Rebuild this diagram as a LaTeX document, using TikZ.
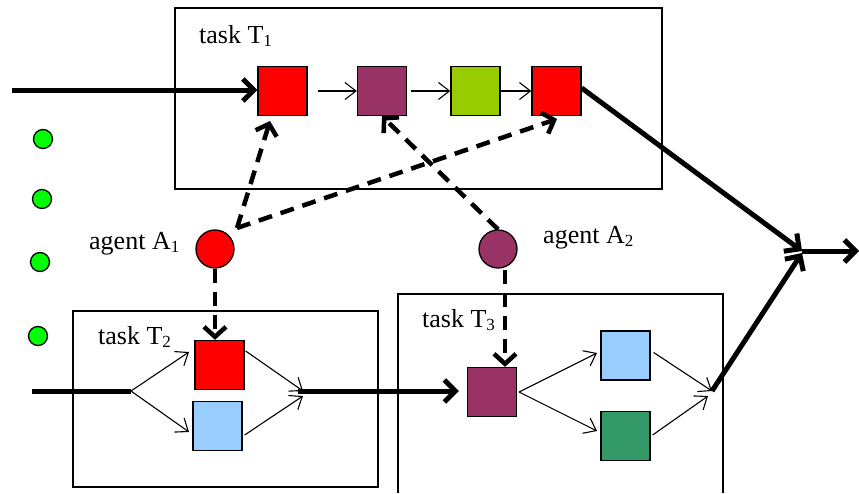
\documentclass[tikz,border=0pt]{standalone}
\usepackage{fontspec}
\setmainfont{Liberation Serif}
\usetikzlibrary{arrows.meta,calc}
\definecolor{cred}{HTML}{FF0000}
\definecolor{cpur}{HTML}{993366}
\definecolor{cgy}{HTML}{99CC00}
\definecolor{cblue}{HTML}{99CCFF}
\definecolor{cdg}{HTML}{339966}
\definecolor{dotgreen}{HTML}{00FF00}
\newcommand\subn[1]{\raisebox{-0.3ex}{\fontsize{17}{17}\selectfont #1}}
\begin{document}
\begin{tikzpicture}[x=1pt,y=-1pt,
  sq/.style={draw, line width=1.3pt, minimum size=49pt, inner sep=0pt},
  dot/.style={circle, draw, line width=1.3pt, fill=dotgreen, minimum size=19pt, inner sep=0pt},
  agent/.style={circle, draw, line width=1.3pt, minimum size=38pt, inner sep=0pt},
  taskbox/.style={draw, line width=1.1pt, inner sep=0pt},
  lbl/.style={anchor=base west, inner sep=0pt, font=\fontsize{26}{26}\selectfont},
  thinarr/.style={line width=1.1pt, -{Straight Barb[length=11pt,width=17pt]}},
  thickarr/.style={line width=5pt, -{Straight Barb[length=11pt,width=22pt]}},
  thickline/.style={line width=5pt},
  dsh/.style={line width=4.5pt, dash pattern=on 14pt off 9pt, -{Straight Barb[length=10pt,width=22pt]}},
]
\useasboundingbox (0,0) rectangle (859,493);

% task boxes
\node[taskbox, minimum width=487pt, minimum height=181pt] (T1) at (418.5,98.5) {};
\node[taskbox, minimum width=305pt, minimum height=176pt] (T2) at (225.5,399) {};
\draw[line width=1.1pt] (398,493) -- (398,294) -- (723,294) -- (723,493);

% labels
\node[lbl] (L1) at (199,43) {task T\subn{1}};
\node[lbl] (L2) at (98,344) {task T\subn{2}};
\node[lbl] (L3) at (422,327) {task T\subn{3}};
\node[lbl] (LA1) at (89,249) {agent A\subn{1}};
\node[lbl] (LA2) at (543,243) {agent A\subn{2}};

% green dots
\node[dot] (d1) at (43,139) {};
\node[dot] (d2) at (42,199) {};
\node[dot] (d3) at (40,262) {};
\node[dot] (d4) at (38,336) {};

% task T1 squares
\node[sq, fill=cred] (r1) at (282.5,91) {};
\node[sq, fill=cpur] (p1) at (382,91) {};
\node[sq, fill=cgy] (g1) at (475.5,91) {};
\node[sq, fill=cred] (r2) at (556.5,91) {};

% agents
\node[agent, fill=cred] (A1) at (215,249) {};
\node[agent, fill=cpur] (A2) at (498,249) {};

% task T2 squares
\node[sq, fill=cred] (r2a) at (219.5,365) {};
\node[sq, fill=cblue] (b2) at (217.5,426) {};

% task T3 squares
\node[sq, fill=cpur] (p3) at (492,392) {};
\node[sq, fill=cblue] (b3) at (625.5,355.5) {};
\node[sq, fill=cdg] (g3) at (625.5,436) {};

% coordinates
\coordinate (in1) at (12,90);
\coordinate (mo) at (802,251);
\coordinate (out) at (859,251);
\coordinate (in2) at (32,391);
\coordinate (s2) at (131,391);
\coordinate (m2) at (303,391);
\coordinate (t2a) at (189,352);
\coordinate (t2b) at (189,432);
\coordinate (s3) at (519,392);
\coordinate (t3a) at (597,353);
\coordinate (t3b) at (597,431);
\coordinate (m3) at (712,391);
\coordinate (a1p) at (237,228);
\coordinate (r1t) at (270,121);
\coordinate (r2t) at (557,119);
\coordinate (a2d) at (505,270);

% T1 flow
\draw[thickarr] (in1) -- (in1 -| r1.west);
\draw[thinarr] ($(r1.east)+(10,0)$) -- (p1.west);
\draw[thinarr] ($(p1.east)+(4,0)$) -- (g1.west);
\draw[thinarr] (g1.east) -- (r2.west);
\draw[thickarr] ($(r2.east)+(0,-3)$) -- (mo);
\draw[thickarr] (mo) -- (out);

% T2 flow
\draw[thickline] (in2) -- (s2);
\draw[thinarr] (s2) -- (t2a);
\draw[thinarr] (s2) -- (t2b);
\draw[thinarr] ($(r2a.east)+(1,-14)$) -- (m2);
\draw[thinarr] ($(b2.east)+(2,9)$) -- ($(m2)+(0,5)$);
\draw[thickarr, shorten >=8pt] ($(m2)+(-5,0)$) -- (m2 -| p3.west);

% T3 flow
\draw[thinarr] (s3) -- (t3a);
\draw[thinarr] (s3) -- (t3b);
\draw[thinarr] ($(b3.east)+(3,-3)$) -- (m3);
\draw[thinarr] ($(g3.east)+(2,-1)$) -- ($(m3)+(-4,5)$);
\draw[thickarr] (m3) -- ($(mo)+(0,2)$);

% agent assignments
\draw[dsh] (a1p) -- (r1t);
\draw[dsh] (a1p) -- (r2t);
\draw[dsh] (A2.north) -- (p1.south);
\draw[dsh] (A1.south) -- (A1.south |- r2a.north);
\draw[dsh] (a2d) -- (a2d |- p3.north);
\end{tikzpicture}
\end{document}
